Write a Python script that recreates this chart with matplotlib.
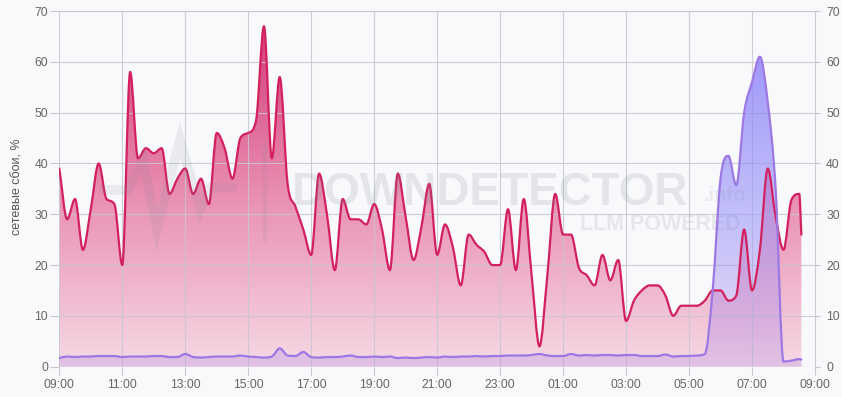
import numpy as np
import pandas as pd
import matplotlib
matplotlib.use("Agg")
import matplotlib.pyplot as plt
from matplotlib.path import Path
from matplotlib.patches import PathPatch
from matplotlib.colors import LinearSegmentedColormap
from matplotlib.lines import Line2D

plt.rcParams["font.family"] = ["Liberation Sans", "DejaVu Sans"]

# ---- data (15-minute samples, 09:00 -> 08:30 next day, plus a partial last one) ----
start = pd.Timestamp("2024-01-01 09:00")
stamps = list(pd.date_range(start, periods=95, freq="15min")) + [pd.Timestamp("2024-01-02 08:34")]
hours = np.array([(s - start).total_seconds() / 3600 for s in stamps])

outages = [39, 29, 33, 23, 31, 40, 33, 32, 20, 58,
           41, 43, 42, 43, 34, 37, 39, 34, 37, 32,
           46, 43, 37, 45, 46, 48.5, 67, 41, 57, 36,
           31.5, 27, 22, 38, 30, 19, 33, 29, 29, 28,
           32, 27, 19, 38, 29.5, 21, 27.5, 36, 22, 28,
           23.5, 16, 26, 24, 22.6, 20, 20, 31, 19, 33,
           18, 4, 18, 34, 26, 26, 19.5, 18, 16, 22,
           17, 21, 9, 13, 15, 16, 16, 14, 10, 12,
           12, 12, 13, 15, 15, 13, 14, 27, 15, 23,
           39, 29.5, 23, 32.8, 34, 26]

baseline = [1.7, 2.0, 1.9, 2.0, 2.0, 2.1, 2.1, 2.1, 1.9, 2.0,
            2.0, 2.0, 2.1, 2.1, 1.9, 1.9, 2.5, 1.9, 1.8, 1.9,
            2.0, 2.0, 2.0, 2.2, 2.0, 1.9, 1.8, 2.0, 3.6, 2.2,
            2.1, 2.9, 1.9, 1.8, 1.9, 1.9, 2.0, 2.2, 1.9, 1.9,
            2.0, 1.9, 2.0, 1.7, 1.8, 1.7, 1.8, 1.9, 1.8, 2.0,
            1.9, 2.0, 2.0, 2.1, 2.0, 2.1, 2.1, 2.2, 2.2, 2.2,
            2.3, 2.5, 2.2, 2.1, 2.1, 2.5, 2.2, 2.3, 2.2, 2.3,
            2.3, 2.2, 2.3, 2.3, 2.1, 2.1, 2.1, 2.4, 2.0, 2.1,
            2.1, 2.2, 2.5, 15, 37, 41.5, 35.7, 50, 56, 61,
            52, 35, 1.0, 1.2, 1.5, 1.4]

xtick_pos = np.arange(0, 25, 2)
xtick_labels = ["09:00", "11:00", "13:00", "15:00", "17:00", "19:00", "21:00",
                "23:00", "01:00", "03:00", "05:00", "07:00", "09:00"]
yticks = np.arange(0, 71, 10)


def monotone_verts(x, y):
    """Monotone cubic (Fritsch-Carlson) as bezier control points."""
    x = np.asarray(x, float)
    y = np.asarray(y, float)
    h = np.diff(x)
    d = np.diff(y) / h
    m = np.empty_like(y)
    m[0], m[-1] = d[0], d[-1]
    m[1:-1] = (d[:-1] + d[1:]) / 2
    m[1:-1][d[:-1] * d[1:] <= 0] = 0
    for k in range(len(d)):
        if d[k] == 0:
            m[k] = m[k + 1] = 0
            continue
        a, b = m[k] / d[k], m[k + 1] / d[k]
        s = a * a + b * b
        if s > 9:
            t = 3 / np.sqrt(s)
            m[k] = t * a * d[k]
            m[k + 1] = t * b * d[k]
    verts = [(x[0], y[0])]
    codes = [Path.MOVETO]
    for k in range(len(h)):
        verts += [(x[k] + h[k] / 3, y[k] + m[k] * h[k] / 3),
                  (x[k + 1] - h[k] / 3, y[k + 1] - m[k + 1] * h[k] / 3),
                  (x[k + 1], y[k + 1])]
        codes += [Path.CURVE4] * 3
    return verts, codes


def smooth_series(ax, x, y, color, cmap, lw=1.6, z=2):
    verts, codes = monotone_verts(x, y)
    fill = PathPatch(Path(verts + [(x[-1], 0), (x[0], 0), (x[0], 0)],
                          codes + [Path.LINETO, Path.LINETO, Path.CLOSEPOLY]),
                     facecolor="none", edgecolor="none")
    ax.add_patch(fill)
    grad = np.linspace(0, 1, 256).reshape(-1, 1)
    im = ax.imshow(grad, extent=[0, 24, 0, 70], origin="lower", aspect="auto",
                   cmap=cmap, zorder=z, interpolation="bilinear")
    im.set_clip_path(fill)
    ax.add_patch(PathPatch(Path(verts, codes), facecolor="none", edgecolor=color,
                           lw=lw, zorder=z + 2, capstyle="round", joinstyle="round"))


bg = "#f8f9fb"
grid_c = "#c6c7cf"

fig = plt.figure(figsize=(8.42, 3.97), dpi=100, facecolor=bg)
ax = fig.add_axes([59.3 / 842, 30.3 / 397, 755.7 / 842, 355.7 / 397])
ax.set_facecolor(bg)

red_cmap = LinearSegmentedColormap.from_list(
    "red", [(0.0, "#f6d9e4"), (0.45, "#ea94b6"), (1.0, "#d33676")])
purple_cmap = LinearSegmentedColormap.from_list(
    "purple", [(0.0, (0.72, 0.55, 0.90, 0.30)), (0.4, (0.62, 0.60, 0.98, 0.58)),
               (1.0, (0.52, 0.47, 0.97, 0.85))])

smooth_series(ax, hours, outages, "#d3205f", red_cmap, z=2)
smooth_series(ax, hours, baseline, "#9d78e4", purple_cmap, z=3)

ax.set_xlim(0, 24)
ax.set_ylim(0, 70)
ax.set_xticks(xtick_pos)
ax.set_xticklabels(xtick_labels)
ax.set_yticks(yticks)
ax.grid(True, color=grid_c, lw=0.8, alpha=0.85, zorder=1.5)
ax.axvline(24, color=grid_c, lw=0.8, alpha=0.85, clip_on=False, zorder=1.5)
ax.axhline(70, color=grid_c, lw=0.8, alpha=0.85, clip_on=False, zorder=1.5)
ax.set_axisbelow(False)
for sp in ax.spines.values():
    sp.set_visible(False)
ax.tick_params(axis="both", colors=grid_c, labelcolor="#666666", labelsize=8.7, width=0.8)
ax.tick_params(axis="y", which="both", left=True, right=True, labelleft=True,
               labelright=True, length=6.5, pad=1.5)
ax.tick_params(axis="x", length=5.8, pad=3)
for t in ax.yaxis.get_major_ticks():
    t.tick2line.set_markersize(3.6)

fig.text(18 / 842, 1 - 187 / 397, "сетевые сбои, %", rotation=90, ha="center",
         va="center", fontsize=9, color="#555555")

# ---- watermark ----
wm = "#7d8593"
fig.text(292 / 842, 1 - 205 / 397, "DOWNDETECTOR", fontsize=33, fontweight="bold",
         color=wm, alpha=0.17, va="baseline", ha="left", zorder=10)
fig.text(704 / 842, 1 - 201 / 397, ".info", fontsize=14.5, fontweight="bold",
         color=wm, alpha=0.12, va="baseline", ha="left", zorder=10)
fig.text(580 / 842, 1 - 230 / 397, "LLM POWERED", fontsize=15.5, fontweight="bold",
         color=wm, alpha=0.15, va="baseline", ha="left", zorder=10)
logo_px = [(105, 190), (128, 190), (143, 160), (157, 228), (180, 140), (200, 210),
           (210, 188), (232, 188)]
fig.add_artist(Line2D([p[0] / 842 for p in logo_px], [1 - p[1] / 397 for p in logo_px],
                      transform=fig.transFigure, color=wm, alpha=0.12, lw=7,
                      solid_joinstyle="miter", zorder=10))
fig.add_artist(Line2D([265 / 842, 265 / 842], [1 - 145 / 397, 1 - 240 / 397],
                      transform=fig.transFigure, color=wm, alpha=0.12, lw=3, zorder=10))

fig.savefig("out.png", dpi=100, facecolor=bg)
